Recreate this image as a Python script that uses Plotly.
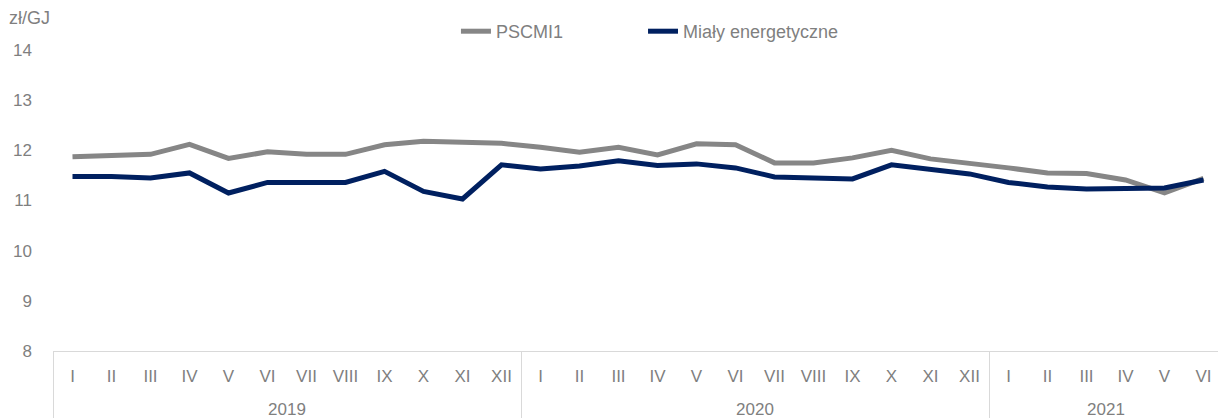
import plotly.graph_objects as go

years = ["2019"] * 12 + ["2020"] * 12 + ["2021"] * 6
months = ["I", "II", "III", "IV", "V", "VI", "VII", "VIII", "IX", "X", "XI", "XII"] * 2 + ["I", "II", "III", "IV", "V", "VI"]

pscmi1 = [11.87, 11.90, 11.92, 12.12, 11.84, 11.97, 11.92, 11.92, 12.11, 12.18,
          12.16, 12.14, 12.06, 11.96, 12.06, 11.91, 12.13, 12.11, 11.75, 11.75,
          11.85, 12.00, 11.83, 11.75, 11.65, 11.55, 11.54, 11.41, 11.15, 11.44]
mialy = [11.48, 11.48, 11.45, 11.55, 11.15, 11.36, 11.36, 11.36, 11.58, 11.18,
         11.03, 11.71, 11.63, 11.69, 11.79, 11.70, 11.73, 11.65, 11.47, 11.45,
         11.43, 11.71, 11.63, 11.53, 11.36, 11.27, 11.23, 11.25, 11.25, 11.41]

FONT = "Liberation Sans, Arial, sans-serif"
TXT = "#7f7f7f"

# month labels get an empty second line so the year row sits lower, as in the reference
month_labels = [m + "<br>\u00a0" for m in months]

fig = go.Figure()
fig.add_trace(go.Scatter(x=[years, month_labels], y=pscmi1, mode="lines", name="PSCMI1",
                         line=dict(color="#868686", width=5), legend="legend"))
fig.add_trace(go.Scatter(x=[years, month_labels], y=mialy, mode="lines", name="Miały energetyczne",
                         line=dict(color="#002060", width=5), legend="legend2"))

leg_common = dict(orientation="h", xanchor="left", y=1.0, yanchor="bottom",
                  font=dict(family=FONT, size=18, color=TXT), bgcolor="rgba(0,0,0,0)")

# page body adds an 8px offset; figure is sized/margined to compensate
fig.update_layout(
    width=1218, height=410,
    margin=dict(l=45, r=3, t=42, b=67, autoexpand=False),
    paper_bgcolor="white", plot_bgcolor="white",
    font=dict(family=FONT, size=17, color=TXT),
    showlegend=True,
    legend=dict(x=0.3444, **leg_common),
    legend2=dict(x=0.5043, **leg_common),
    xaxis=dict(type="multicategory", range=[-0.5, 29.5], showline=True, linecolor="#d9d9d9",
               linewidth=1, showgrid=False, ticks="", showdividers=True, dividercolor="#d9d9d9",
               dividerwidth=1, ticklabelstandoff=10,
               tickfont=dict(family=FONT, size=17, color=TXT)),
    yaxis=dict(range=[8, 14], dtick=1, showgrid=False, showline=False, zeroline=False,
               ticks="", tickfont=dict(family=FONT, size=17, color=TXT), ticklabelstandoff=20),
    annotations=[dict(text="zł/GJ", xref="paper", yref="paper", x=-0.039, y=1.107,
                      xanchor="left", yanchor="middle", showarrow=False,
                      font=dict(family=FONT, size=18, color=TXT))],
)

fig.write_html("out.html")
